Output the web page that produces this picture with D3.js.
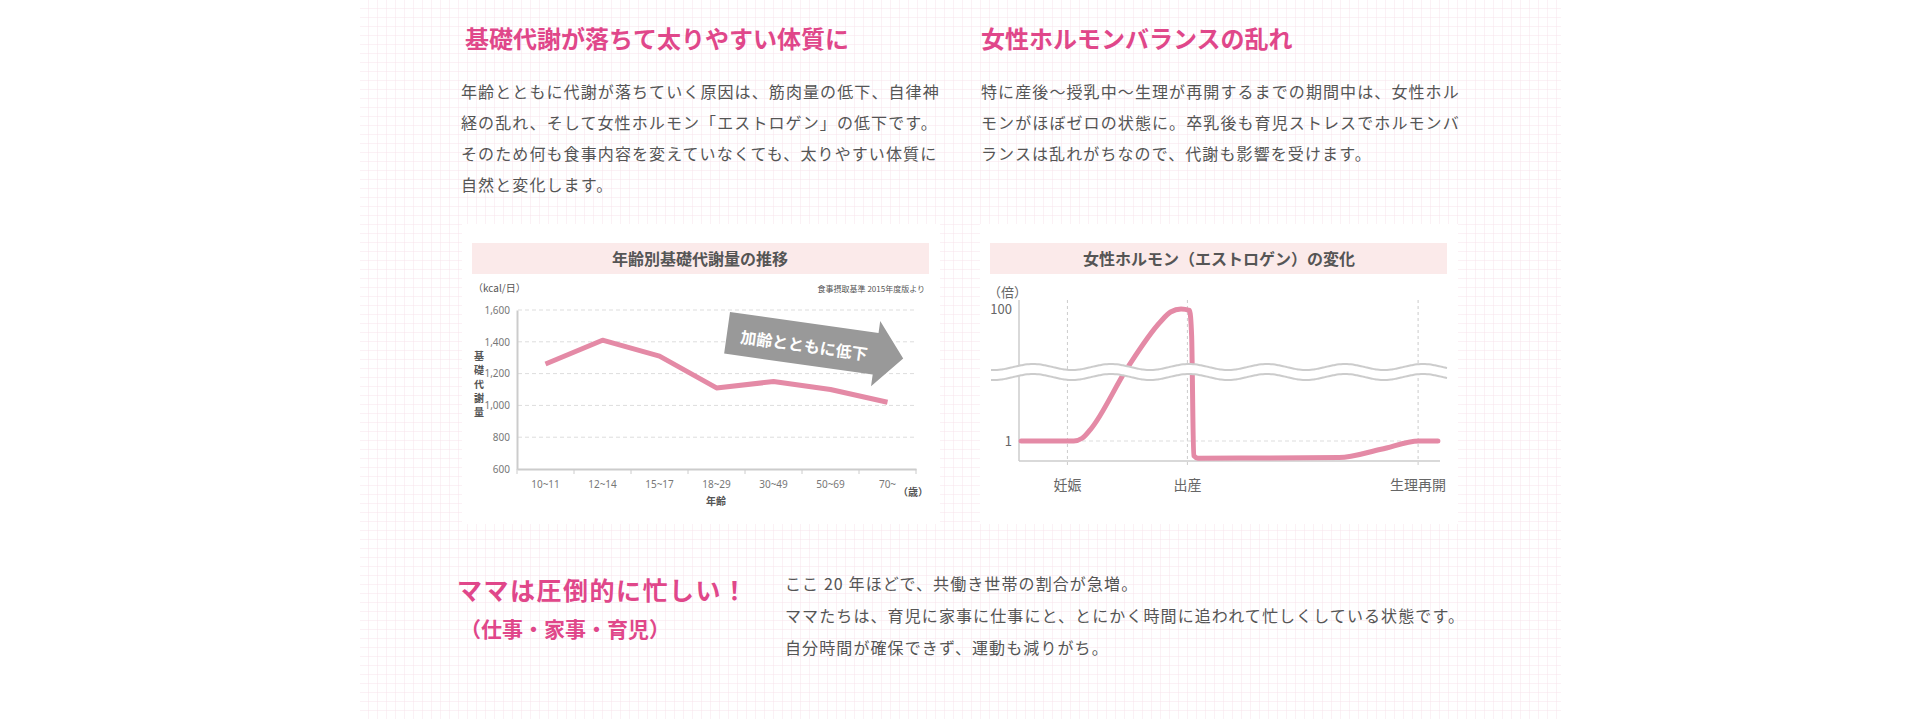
<!DOCTYPE html>
<html><head><meta charset="utf-8">
<script src="https://cdn.jsdelivr.net/npm/d3@7"></script>
<style>
body{margin:0;background:#fff;}
svg{display:block;font-family:"Noto Sans CJK JP","Noto Sans",sans-serif;}
</style></head>
<body><svg width="1920" height="719"></svg>
<script>
// metabolism chart data
var ageGroups = ["10~11","12~14","15~17","18~29","30~49","50~69","70~"];
var kcalValues = [1260,1410,1310,1110,1150,1100,1020];
var kcalTicks = [600,800,1000,1200,1400,1600];
// estrogen chart data (x = relative time, y = times)
var hormoneX = [0.5,13,15,17,25.7,33.5,36,38.5,40.5,41,41.5,42.5,76,86,95,99.5];
var hormoneY = [1,1,1.1,1.5,12.7,63,90,100,95,40,0.6,0.55,0.56,0.75,1,1];
var hormoneTicks = [1,100];
var eventNames = ["妊娠","出産","生理再開"];
var eventX = [11.5,40,94.8];

var pink = "#e0478a", line = "#e48aa6", txt = "#555";
var svg = d3.select("svg");

// grid paper background
var defs = svg.append("defs");
var pat = defs.append("pattern").attr("id","grid").attr("width",9).attr("height",9)
  .attr("patternUnits","userSpaceOnUse");
pat.append("path").attr("d","M9 0V9H0").attr("fill","none").attr("stroke","#f7e3ea").attr("stroke-width",1);
svg.append("rect").attr("x",360).attr("y",0).attr("width",1201).attr("height",719).attr("fill","url(#grid)");

// headings and paragraphs
function para(x, y, lines, lh){
  var t = svg.append("text").attr("x",x).attr("y",y).attr("fill",txt)
    .attr("font-size",16).attr("letter-spacing",1.1);
  lines.forEach(function(l,i){ t.append("tspan").attr("x",x).attr("y",y+i*lh).text(l); });
}
svg.append("text").attr("x",465).attr("y",48).attr("fill",pink).attr("font-size",24)
  .attr("font-weight","bold").text("基礎代謝が落ちて太りやすい体質に");
svg.append("text").attr("x",981).attr("y",48).attr("fill",pink).attr("font-size",24)
  .attr("font-weight","bold").text("女性ホルモンバランスの乱れ");
para(461,98,["年齢とともに代謝が落ちていく原因は、筋肉量の低下、自律神",
  "経の乱れ、そして女性ホルモン「エストロゲン」の低下です。",
  "そのため何も食事内容を変えていなくても、太りやすい体質に",
  "自然と変化します。"],31);
para(981,98,["特に産後〜授乳中〜生理が再開するまでの期間中は、女性ホル",
  "モンがほぼゼロの状態に。卒乳後も育児ストレスでホルモンバ",
  "ランスは乱れがちなので、代謝も影響を受けます。"],31);

svg.append("text").attr("x",457).attr("y",600).attr("fill",pink).attr("font-size",25)
  .attr("font-weight","bold").attr("letter-spacing",1.5).text("ママは圧倒的に忙しい！");
svg.append("text").attr("x",460).attr("y",637).attr("fill",pink).attr("font-size",21)
  .attr("font-weight","bold").text("（仕事・家事・育児）");
para(785,590,["ここ 20 年ほどで、共働き世帯の割合が急増。",
  "ママたちは、育児に家事に仕事にと、とにかく時間に追われて忙しくしている状態です。",
  "自分時間が確保できず、運動も減りがち。"],32);

// panels
[[462,224],[980,224]].forEach(function(p){
  svg.append("rect").attr("x",p[0]).attr("y",p[1]).attr("width",478).attr("height",300).attr("fill","#fff");
  svg.append("rect").attr("x",p[0]+10).attr("y",p[1]+19).attr("width",457).attr("height",31).attr("fill","#fbeaea");
});
svg.append("text").attr("x",700).attr("y",265).attr("text-anchor","middle").attr("fill",txt)
  .attr("font-size",16).attr("font-weight","bold").text("年齢別基礎代謝量の推移");
svg.append("text").attr("x",1219).attr("y",265).attr("text-anchor","middle").attr("fill",txt)
  .attr("font-size",16).attr("font-weight","bold").text("女性ホルモン（エストロゲン）の変化");

// chart 1
var x1 = d3.scaleBand().domain(ageGroups).range([517,916]);
var y1 = d3.scaleLinear().domain([600,1600]).range([469,310]);
var g1 = svg.append("g");
g1.selectAll(".gl").data(kcalTicks.slice(1)).enter().append("line")
  .attr("x1",518).attr("x2",916).attr("y1",function(d){return y1(d);}).attr("y2",function(d){return y1(d);})
  .attr("stroke","#ddd").attr("stroke-dasharray","4,3");
var ax = g1.append("g").attr("transform","translate(0,469)").call(d3.axisBottom(x1).tickSize(0).tickPadding(12));
ax.select(".domain").attr("stroke","#ccc").attr("stroke-width",2);
ax.selectAll("text").attr("fill","#777").attr("font-size",10).attr("font-family","Noto Sans");
g1.selectAll(".bt").data(d3.range(8)).enter().append("line")
  .attr("x1",function(i){return 517+i*x1.step();}).attr("x2",function(i){return 517+i*x1.step();})
  .attr("y1",469).attr("y2",474).attr("stroke","#ccc");
var ay = g1.append("g").attr("transform","translate(517,0)").call(d3.axisLeft(y1).tickValues(kcalTicks).tickSize(0).tickPadding(7));
ay.select(".domain").attr("stroke","#ccc").attr("stroke-width",2);
ay.selectAll("text").attr("fill","#777").attr("font-size",10).attr("font-family","Noto Sans");
g1.append("text").attr("x",473).attr("y",292).attr("fill",txt).attr("font-size",10).text("（kcal/日）");
g1.append("text").attr("x",925).attr("y",292).attr("text-anchor","end").attr("fill",txt).attr("font-size",8).text("食事摂取基準 2015年度版より");
g1.append("text").attr("x",928).attr("y",496).attr("text-anchor","end").attr("fill",txt).attr("font-size",10).attr("font-weight","bold").text("（歳）");
g1.append("text").attr("x",716).attr("y",505).attr("text-anchor","middle").attr("fill",txt).attr("font-size",10).attr("font-weight","bold").text("年齢");
"基礎代謝量".split("").forEach(function(c,i){
  g1.append("text").attr("x",479).attr("y",360+i*14).attr("text-anchor","middle").attr("fill",txt)
    .attr("font-size",10).attr("font-weight","bold").text(c);
});
g1.append("path").datum(kcalValues)
  .attr("d",d3.line().x(function(d,i){return x1(ageGroups[i])+x1.bandwidth()/2;}).y(function(d){return y1(d);}))
  .attr("fill","none").attr("stroke",line).attr("stroke-width",5).attr("stroke-linejoin","round");
// arrow
var arr = g1.append("g").attr("transform","translate(730,312) rotate(8)");
arr.append("path").attr("d","M0 0H150V-12L178 22L150 54V42H0Z").attr("fill","#999");
arr.append("text").attr("x",14).attr("y",29).attr("fill","#fff").attr("font-size",16).attr("font-weight","bold").text("加齢とともに低下");

// chart 2
var x2 = d3.scaleLinear().domain([0,100]).range([1019,1440]);
var y2 = d3.scaleLog().domain([1,100]).range([441,309]);
var g2 = svg.append("g");
g2.selectAll(".ev").data(eventX).enter().append("line")
  .attr("x1",function(d){return x2(d);}).attr("x2",function(d){return x2(d);})
  .attr("y1",300).attr("y2",466).attr("stroke","#ccc").attr("stroke-dasharray","3,3");
g2.append("line").attr("x1",1019).attr("x2",1440).attr("y1",y2(1)).attr("y2",y2(1)).attr("stroke","#ddd").attr("stroke-dasharray","4,3");
g2.append("line").attr("x1",1019).attr("x2",1019).attr("y1",300).attr("y2",461).attr("stroke","#ccc").attr("stroke-width",1.5);
g2.append("line").attr("x1",1019).attr("x2",1440).attr("y1",461).attr("y2",461).attr("stroke","#ccc").attr("stroke-width",1.5);
g2.selectAll(".yt").data(hormoneTicks).enter().append("text")
  .attr("x",1012).attr("y",function(d){return y2(d)+5;}).attr("text-anchor","end").attr("fill","#666")
  .attr("font-size",13).text(function(d){return d;});
g2.append("text").attr("x",988).attr("y",297).attr("fill","#666").attr("font-size",13).text("（倍）");
g2.selectAll(".en").data(eventNames).enter().append("text")
  .attr("x",function(d,i){return x2(eventX[i]);}).attr("y",490).attr("text-anchor","middle")
  .attr("fill","#666").attr("font-size",14).text(function(d){return d;});
g2.append("path").datum(d3.zip(hormoneX,hormoneY))
  .attr("d",d3.line().x(function(d){return x2(d[0]);}).y(function(d){return y2(d[1]);}).curve(d3.curveMonotoneX))
  .attr("fill","none").attr("stroke",line).attr("stroke-width",5).attr("stroke-linecap","round").attr("stroke-linejoin","round");
// axis break waves
var wave = d3.range(0,458,2);
function wavePath(y0){ return d3.line().x(function(d){return 991+d;}).y(function(d){return y0-3*Math.cos((d-42)/78*2*Math.PI);}).curve(d3.curveBasis)(wave); }
g2.append("path").attr("d",wavePath(368)+"L1449 378"+wavePath(378).replace("M","L").split("").join("")).attr("fill","none");
var band = d3.area().x(function(d){return 991+d;})
  .y0(function(d){return 367-3*Math.cos((d-42)/78*2*Math.PI);})
  .y1(function(d){return 377-3*Math.cos((d-42)/78*2*Math.PI);}).curve(d3.curveBasis);
g2.append("path").attr("d",band(wave)).attr("fill","#fff");
g2.append("path").attr("d",wavePath(367)).attr("fill","none").attr("stroke","#ccc").attr("stroke-width",2);
g2.append("path").attr("d",wavePath(377)).attr("fill","none").attr("stroke","#ccc").attr("stroke-width",2);
</script></body></html>
